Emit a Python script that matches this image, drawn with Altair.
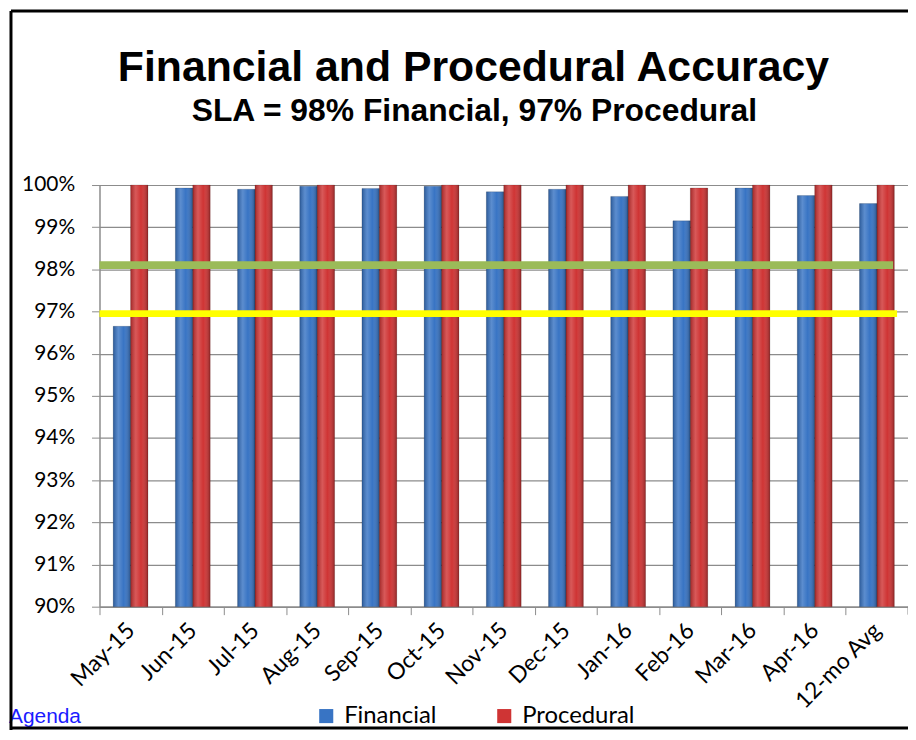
import altair as alt
import pandas as pd

categories = ["May-15", "Jun-15", "Jul-15", "Aug-15", "Sep-15", "Oct-15", "Nov-15",
              "Dec-15", "Jan-16", "Feb-16", "Mar-16", "Apr-16", "12-mo Avg"]
series_names = ["Financial", "Procedural"]
financial = [96.65, 99.93, 99.90, 99.97, 99.92, 99.97, 99.84, 99.90, 99.73, 99.15, 99.93, 99.75, 99.56]
procedural = [100.0, 100.0, 100.0, 100.0, 100.0, 100.0, 100.0, 100.0, 100.0, 99.93, 100.0, 100.0, 100.0]
sla_financial = 98.1
sla_procedural = 96.95
y_ticks = [90, 91, 92, 93, 94, 95, 96, 97, 98, 99, 100]

TITLE = "Financial and Procedural Accuracy"
SUBTITLE = "SLA = 98% Financial, 97% Procedural"

rows = []
for i, c in enumerate(categories):
    rows.append({"Month": c, "Series": "Financial", "Value": financial[i]})
    rows.append({"Month": c, "Series": "Procedural", "Value": procedural[i]})
df = pd.DataFrame(rows)

GRAY = "#8c8c8c"
W, H = 813, 424
half_band = W / len(categories) / 2

base = alt.Chart(df).encode(
    x=alt.X("Month:N", sort=categories,
            scale=alt.Scale(paddingInner=0.44, paddingOuter=0.22),
            axis=alt.Axis(title=None, labelAngle=-45, labelAlign="right", labelBaseline="middle",
                          labelFontSize=23, labelFont="Lato", labelColor="black",
                          tickSize=8, tickOffset=-half_band, labelOffset=half_band,
                          labelPadding=12, tickColor=GRAY, domainColor=GRAY, domainWidth=1.5,
                          grid=False)),
    xOffset=alt.XOffset("Series:N", sort=series_names, scale=alt.Scale(paddingInner=0)),
    y=alt.Y("Value:Q", scale=alt.Scale(domain=[90, 100], zero=False, nice=False, clamp=True),
            axis=alt.Axis(values=y_ticks, labelExpr="datum.value + '%'", title=None,
                          labelFontSize=21, labelFont="Lato", labelColor="black",
                          labelPadding=17, tickSize=8, tickColor=GRAY, gridColor=GRAY,
                          gridWidth=1.2, domainColor=GRAY, domainWidth=1.5)),
    y2=alt.Y2(datum=90),
)

bars = base.mark_bar().encode(
    color=alt.Color("Series:N", sort=series_names,
                    scale=alt.Scale(domain=series_names, range=["#3874c4", "#cf3434"]),
                    legend=alt.Legend(orient="none", legendX=216, legendY=522, direction="horizontal",
                                      title=None, labelFontSize=24, labelFont="Lato",
                                      labelColor="black", symbolType="square", symbolSize=200,
                                      symbolStrokeWidth=0, labelOffset=6, columnPadding=56,
                                      padding=0))
)

shade = base.mark_bar(
    color=alt.Gradient(
        gradient="linear", x1=0, x2=1, y1=0, y2=0,
        stops=[alt.GradientStop(color="rgba(0,0,0,0.22)", offset=0),
               alt.GradientStop(color="rgba(255,255,255,0.18)", offset=0.3),
               alt.GradientStop(color="rgba(255,255,255,0.0)", offset=0.6),
               alt.GradientStop(color="rgba(0,0,0,0.3)", offset=1)]),
    stroke="rgba(0,0,0,0.25)", strokeWidth=0.6,
)

one = pd.DataFrame({"t": [TITLE]})

green = alt.Chart(one).mark_rule(color="#9bbb59", strokeWidth=8).encode(
    y=alt.datum(sla_financial), x=alt.value(0), x2=alt.value(798))
yellow = alt.Chart(one).mark_rule(color="#ffff00", strokeWidth=7).encode(
    y=alt.datum(sla_procedural), x=alt.value(0), x2=alt.value(802))

end_tick = alt.Chart(one).mark_rule(color=GRAY, strokeWidth=1).encode(
    x=alt.value(W), y=alt.value(H), y2=alt.value(H + 8))

title = alt.Chart(pd.DataFrame({"t": [TITLE]})).mark_text(
    fontSize=43, fontWeight="bold", font="Liberation Sans", align="center",
    baseline="alphabetic", color="black").encode(
    text="t:N", x=alt.value(376), y=alt.value(-105))
subtitle = alt.Chart(pd.DataFrame({"t": [SUBTITLE]})).mark_text(
    fontSize=32, fontWeight="bold", font="Liberation Sans", align="center",
    baseline="alphabetic", color="black").encode(
    text="t:N", x=alt.value(377), y=alt.value(-64))
agenda = alt.Chart(pd.DataFrame({"t": ["Agenda"]})).mark_text(
    fontSize=21, font="Liberation Sans", align="left", baseline="alphabetic",
    color="#1a1aff").encode(text="t:N", x=alt.value(-91), y=alt.value(541))

border_top = alt.Chart(one).mark_rule(color="black", strokeWidth=3).encode(
    x=alt.value(-89), x2=alt.value(W), y=alt.value(-175))
border_left = alt.Chart(one).mark_rule(color="black", strokeWidth=3).encode(
    x=alt.value(-89), y=alt.value(-175), y2=alt.value(548))
border_bottom = alt.Chart(one).mark_rule(color="black", strokeWidth=3).encode(
    x=alt.value(-89), x2=alt.value(W), y=alt.value(546))

chart = alt.layer(
    bars, shade, green, yellow, end_tick, title, subtitle, agenda,
    border_top, border_left, border_bottom
).properties(
    width=W, height=H,
    padding={"left": 92, "top": 176, "right": 0, "bottom": 124},
    autosize=alt.AutoSizeParams(type="none"),
    background="white",
).configure_view(stroke=None)

chart.save("out.html", embed_options={"renderer": "svg", "actions": False})
